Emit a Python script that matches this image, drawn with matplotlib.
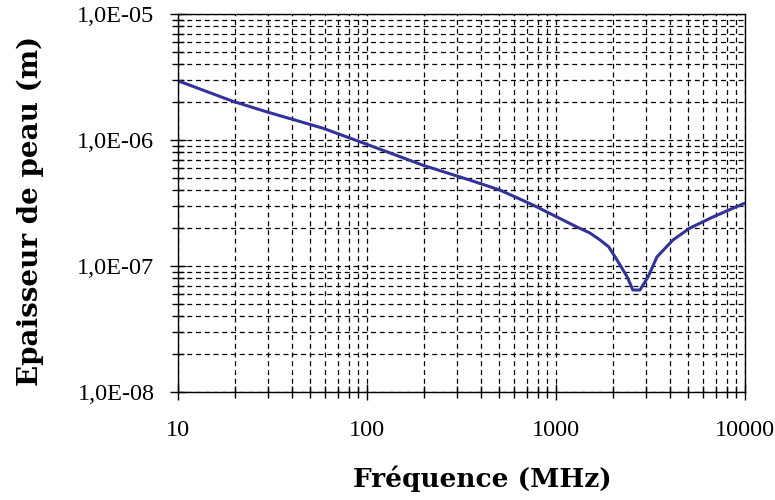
import matplotlib.pyplot as plt
from matplotlib.ticker import LogLocator, NullFormatter

# frequency (MHz) and skin depth (m)
freq = [10, 19.5, 29.6, 58.5, 95, 198, 351, 506, 755, 1000, 1290, 1510, 1710,
        1900, 2100, 2380, 2550, 2780, 3070, 3420, 4160, 5110, 6770, 10000]
depth = [2.95e-6, 2.03e-6, 1.67e-6, 1.24e-6, 9.5e-7, 6.3e-7, 4.8e-7, 4.0e-7,
         3.05e-7, 2.47e-7, 2.04e-7, 1.83e-7, 1.61e-7, 1.42e-7, 1.12e-7, 8.2e-8,
         6.45e-8, 6.45e-8, 8.2e-8, 1.18e-7, 1.61e-7, 2.0e-7, 2.45e-7, 3.16e-7]

x_ticks = [10, 100, 1000, 10000]
x_labels = ['10', '100', '1000', '10000']
y_ticks = [1e-8, 1e-7, 1e-6, 1e-5]
y_labels = ['1,0E-08', '1,0E-07', '1,0E-06', '1,0E-05']

plt.rcParams['font.family'] = ['DejaVu Serif']

fig = plt.figure(figsize=(7.75, 5), dpi=100)
ax = fig.add_axes([178 / 775, 1 - 392 / 500, (745 - 178) / 775, (392 - 14) / 500])

ax.plot(freq, depth, color='#333399', lw=2.2)

ax.set_xscale('log')
ax.set_yscale('log')
ax.set_xlim(10, 10000)
ax.set_ylim(1e-8, 1e-5)

tick_font = dict(fontsize=17.5, fontfamily='Liberation Serif')
ax.set_xticks(x_ticks, x_labels, **tick_font)
ax.set_yticks(y_ticks, y_labels, **tick_font)
ax.xaxis.set_minor_locator(LogLocator(base=10, subs=range(2, 10)))
ax.yaxis.set_minor_locator(LogLocator(base=10, subs=range(2, 10)))
ax.xaxis.set_minor_formatter(NullFormatter())
ax.yaxis.set_minor_formatter(NullFormatter())

ax.grid(True, which='both', color='black', linestyle=(0, (4, 3)), lw=0.9)

ax.tick_params(which='major', direction='inout', length=12, width=1, colors='black')
ax.tick_params(which='minor', direction='inout', length=8, width=1)
ax.tick_params(axis='x', which='major', pad=14)
ax.tick_params(axis='y', which='major', pad=11)
ax.tick_params(top=False, right=False)

for s in ax.spines.values():
    s.set_linewidth(1)
    s.set_color('black')

ax.set_xlabel('Fréquence (MHz)', fontsize=19, fontweight='bold')
ax.set_ylabel('Epaisseur de peau (m)', fontsize=20, fontweight='bold')
ax.xaxis.set_label_coords((482 - 178) / 567, (392 - 465) / 378)
ax.yaxis.set_label_coords((44 - 178) / 567, 0.48)

fig.savefig('out.png', dpi=100)
